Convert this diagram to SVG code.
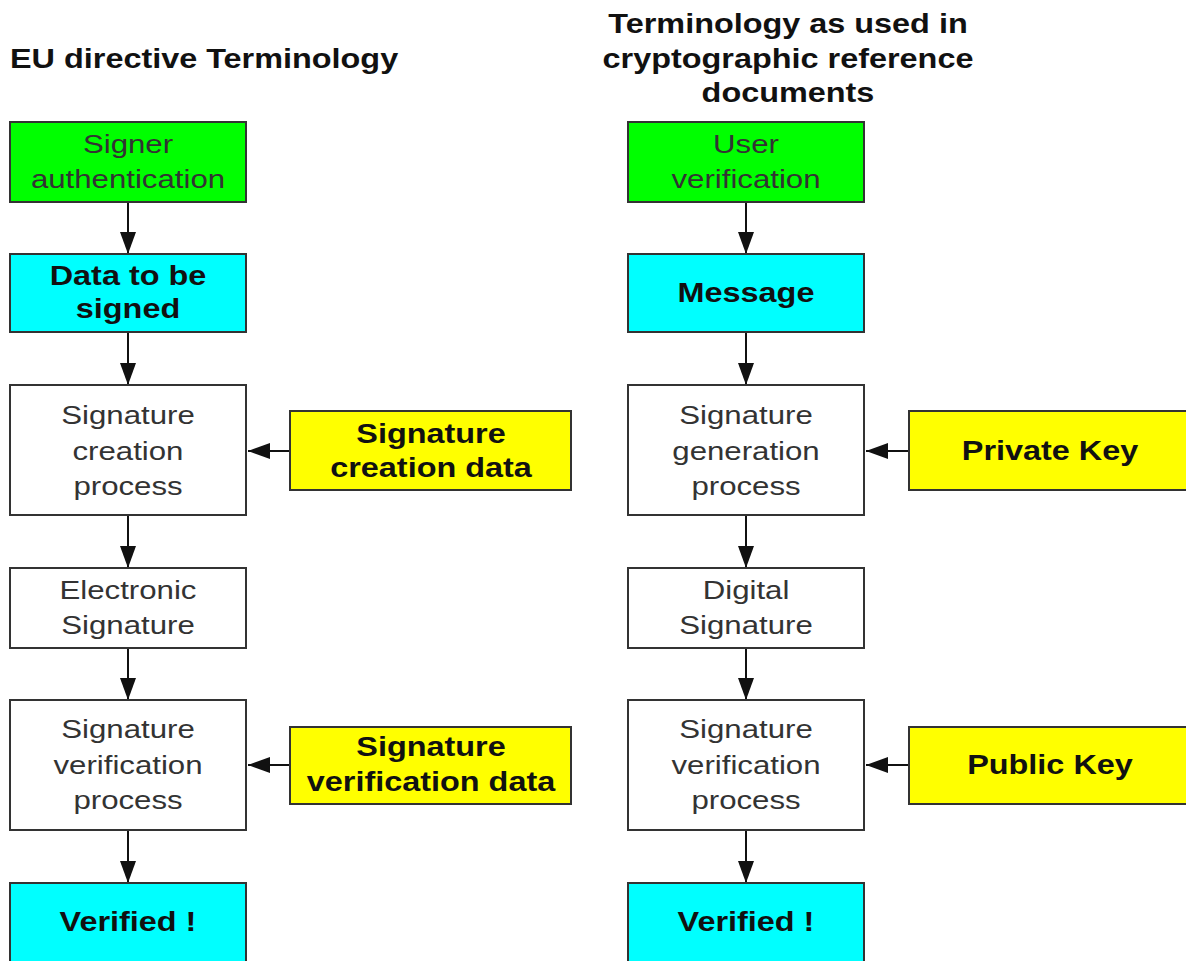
<svg xmlns="http://www.w3.org/2000/svg" width="1186" height="961" viewBox="0 0 1186 961">
<style>
.box{stroke:#333;stroke-width:2}
.g{fill:#00ff00}.c{fill:#00ffff}.y{fill:#ffff00}.w{fill:#ffffff}
text{font-family:"Liberation Sans",Arial,sans-serif;fill:#111;text-anchor:middle}
.r{font-size:26px;fill:#333}
.b{font-size:27px;font-weight:bold}
.t{font-size:27px;font-weight:bold}
.conn line{stroke:#111;stroke-width:2;marker-end:url(#ah)}
</style>
<defs>
<marker id="ah" viewBox="0 0 22 16" refX="22" refY="8" markerWidth="22" markerHeight="16" markerUnits="userSpaceOnUse" orient="auto">
<path d="M0,0 L22,8 L0,16 Z" fill="#111"/>
</marker>
</defs>
<rect width="1186" height="961" fill="#fff"/>
<g id="title-left"><text class="t" text-anchor="start" style="text-anchor:start" transform="translate(10,68) scale(1.2,1)">EU directive Terminology</text></g>
<g id="title-right">
<text class="t" transform="translate(788,33) scale(1.2,1)">Terminology as used in</text>
<text class="t" transform="translate(788,68) scale(1.2,1)">cryptographic reference</text>
<text class="t" transform="translate(788,102) scale(1.2,1)">documents</text>
</g>
<g class="conn">
<line x1="128" y1="202" x2="128" y2="254"/>
<line x1="128" y1="332" x2="128" y2="385"/>
<line x1="128" y1="515" x2="128" y2="568"/>
<line x1="128" y1="648" x2="128" y2="700"/>
<line x1="128" y1="830" x2="128" y2="883"/>
<line x1="289" y1="451" x2="248" y2="451"/>
<line x1="289" y1="765" x2="248" y2="765"/>
<line x1="746" y1="202" x2="746" y2="254"/>
<line x1="746" y1="332" x2="746" y2="385"/>
<line x1="746" y1="515" x2="746" y2="568"/>
<line x1="746" y1="648" x2="746" y2="700"/>
<line x1="746" y1="830" x2="746" y2="883"/>
<line x1="909" y1="451" x2="866" y2="451"/>
<line x1="909" y1="765" x2="866" y2="765"/>
</g>
<g id="signer-auth"><rect class="box g" x="10" y="122" width="236" height="80"/>
<text class="r" transform="translate(128,153) scale(1.2,1)">Signer</text>
<text class="r" transform="translate(128,188) scale(1.2,1)">authentication</text></g>
<g id="data-signed"><rect class="box c" x="10" y="254" width="236" height="78"/>
<text class="b" transform="translate(128,285) scale(1.2,1)">Data to be</text>
<text class="b" transform="translate(128,318) scale(1.2,1)">signed</text></g>
<g id="sig-creation"><rect class="box w" x="10" y="385" width="236" height="130"/>
<text class="r" transform="translate(128,424) scale(1.2,1)">Signature</text>
<text class="r" transform="translate(128,460) scale(1.2,1)">creation</text>
<text class="r" transform="translate(128,495) scale(1.2,1)">process</text></g>
<g id="sig-creation-data"><rect class="box y" x="290" y="411" width="281" height="79"/>
<text class="b" transform="translate(431,443) scale(1.2,1)">Signature</text>
<text class="b" transform="translate(431,477) scale(1.2,1)">creation data</text></g>
<g id="e-signature"><rect class="box w" x="10" y="568" width="236" height="80"/>
<text class="r" transform="translate(128,599) scale(1.2,1)">Electronic</text>
<text class="r" transform="translate(128,634) scale(1.2,1)">Signature</text></g>
<g id="sig-verif-left"><rect class="box w" x="10" y="700" width="236" height="130"/>
<text class="r" transform="translate(128,738) scale(1.2,1)">Signature</text>
<text class="r" transform="translate(128,774) scale(1.2,1)">verification</text>
<text class="r" transform="translate(128,809) scale(1.2,1)">process</text></g>
<g id="sig-verif-data"><rect class="box y" x="290" y="727" width="281" height="77"/>
<text class="b" transform="translate(431,756) scale(1.2,1)">Signature</text>
<text class="b" transform="translate(431,791) scale(1.2,1)">verification data</text></g>
<g id="verified-left"><rect class="box c" x="10" y="883" width="236" height="80"/>
<text class="b" transform="translate(128,931) scale(1.2,1)">Verified !</text></g>
<g id="user-verif"><rect class="box g" x="628" y="122" width="236" height="80"/>
<text class="r" transform="translate(746,153) scale(1.2,1)">User</text>
<text class="r" transform="translate(746,188) scale(1.2,1)">verification</text></g>
<g id="message"><rect class="box c" x="628" y="254" width="236" height="78"/>
<text class="b" transform="translate(746,302) scale(1.2,1)">Message</text></g>
<g id="sig-generation"><rect class="box w" x="628" y="385" width="236" height="130"/>
<text class="r" transform="translate(746,424) scale(1.2,1)">Signature</text>
<text class="r" transform="translate(746,460) scale(1.2,1)">generation</text>
<text class="r" transform="translate(746,495) scale(1.2,1)">process</text></g>
<g id="private-key"><rect class="box y" x="909" y="411" width="290" height="79"/>
<text class="b" transform="translate(1050,460) scale(1.2,1)">Private Key</text></g>
<g id="digital-signature"><rect class="box w" x="628" y="568" width="236" height="80"/>
<text class="r" transform="translate(746,599) scale(1.2,1)">Digital</text>
<text class="r" transform="translate(746,634) scale(1.2,1)">Signature</text></g>
<g id="sig-verif-right"><rect class="box w" x="628" y="700" width="236" height="130"/>
<text class="r" transform="translate(746,738) scale(1.2,1)">Signature</text>
<text class="r" transform="translate(746,774) scale(1.2,1)">verification</text>
<text class="r" transform="translate(746,809) scale(1.2,1)">process</text></g>
<g id="public-key"><rect class="box y" x="909" y="727" width="290" height="77"/>
<text class="b" transform="translate(1050,774) scale(1.2,1)">Public Key</text></g>
<g id="verified-right"><rect class="box c" x="628" y="883" width="236" height="80"/>
<text class="b" transform="translate(746,931) scale(1.2,1)">Verified !</text></g>
</svg>
